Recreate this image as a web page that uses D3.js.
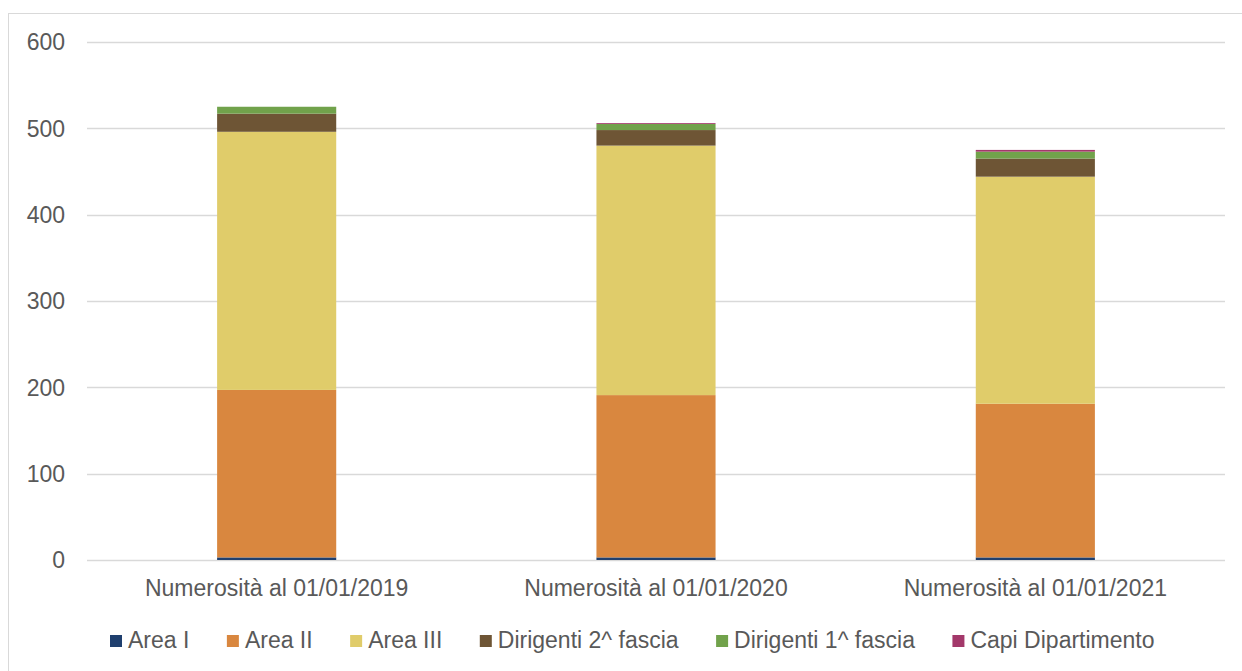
<!DOCTYPE html>
<html>
<head>
<meta charset="utf-8">
<script src="https://cdn.jsdelivr.net/npm/d3@7"></script>
<style>
  body { margin: 0; background: #fff; }
  text { font-family: "Liberation Sans", Arial, sans-serif; fill: #595959; }
</style>
</head>
<body>
<div id="chart"></div>
<script>
// categories and series
var categories = ["Numerosità al 01/01/2019", "Numerosità al 01/01/2020", "Numerosità al 01/01/2021"];
var seriesNames = ["Area I", "Area II", "Area III", "Dirigenti 2^ fascia", "Dirigenti 1^ fascia", "Capi Dipartimento"];
var seriesColors = ["#1f3f6e", "#d9873f", "#e0cc6a", "#6e5535", "#71a24b", "#a3386a"];

var areaI = [3, 3, 3];
var areaII = [194, 188, 178];
var areaIII = [299, 289, 263];
var dirigenti2 = [21, 18, 21];
var dirigenti1 = [8, 7, 8];
var capiDip = [0, 1, 2];

var yTicks = [0, 100, 200, 300, 400, 500, 600];

var allSeries = [areaI, areaII, areaIII, dirigenti2, dirigenti1, capiDip];

// build table for the stack
var table = categories.map(function (c, i) {
    var row = {cat: c};
    seriesNames.forEach(function (s, j) { row[s] = allSeries[j][i]; });
    return row;
});

var W = 1242, H = 671;
var margin = {top: 42, right: 17, bottom: 111, left: 87};

var svg = d3.select("#chart").append("svg")
    .attr("width", W)
    .attr("height", H);

// outer frame
svg.append("rect")
    .attr("x", 8.5).attr("y", 13.5)
    .attr("width", 1240).attr("height", 670)
    .attr("fill", "none")
    .attr("stroke", "#d9d9d9");

var x = d3.scaleBand()
    .domain(categories)
    .range([margin.left, W - margin.right])
    .paddingInner(0.686)
    .paddingOuter(0.343);

var y = d3.scaleLinear()
    .domain([0, 600])
    .range([H - margin.bottom, margin.top]);

// gridlines
svg.append("g")
    .selectAll("line")
    .data(yTicks)
    .enter().append("line")
    .attr("x1", margin.left)
    .attr("x2", W - margin.right)
    .attr("y1", function (d) { return Math.round(y(d)) + 0.5; })
    .attr("y2", function (d) { return Math.round(y(d)) + 0.5; })
    .attr("stroke", "#d9d9d9")
    .attr("stroke-width", 1.3);

// y labels
svg.append("g")
    .selectAll("text")
    .data(yTicks)
    .enter().append("text")
    .attr("x", 65)
    .attr("y", function (d) { return y(d); })
    .attr("dy", "0.36em")
    .attr("text-anchor", "end")
    .style("font-size", "23px")
    .text(function (d) { return d; });

// stacked bars
var stacked = d3.stack().keys(seriesNames)(table);

svg.append("g")
    .selectAll("g")
    .data(stacked)
    .enter().append("g")
    .attr("fill", function (d, i) { return seriesColors[i]; })
    .selectAll("rect")
    .data(function (d) { return d; })
    .enter().append("rect")
    .attr("x", function (d) { return x(d.data.cat); })
    .attr("width", x.bandwidth())
    .attr("y", function (d) { return y(d[1]); })
    .attr("height", function (d) { return y(d[0]) - y(d[1]); });

// x labels
svg.append("g")
    .selectAll("text")
    .data(categories)
    .enter().append("text")
    .attr("x", function (d) { return x(d) + x.bandwidth() / 2; })
    .attr("y", 596)
    .attr("text-anchor", "middle")
    .style("font-size", "23px")
    .text(function (d) { return d; });

// legend
var legend = svg.append("g");
var lx = 110;
seriesNames.forEach(function (s, i) {
    legend.append("rect")
        .attr("x", lx).attr("y", 635)
        .attr("width", 12).attr("height", 12)
        .attr("fill", seriesColors[i]);
    var t = legend.append("text")
        .attr("x", lx + 18)
        .attr("y", 648)
        .style("font-size", "23px")
        .text(s);
    lx += 18 + t.node().getComputedTextLength() + 37.5;
});
</script>
</body>
</html>
